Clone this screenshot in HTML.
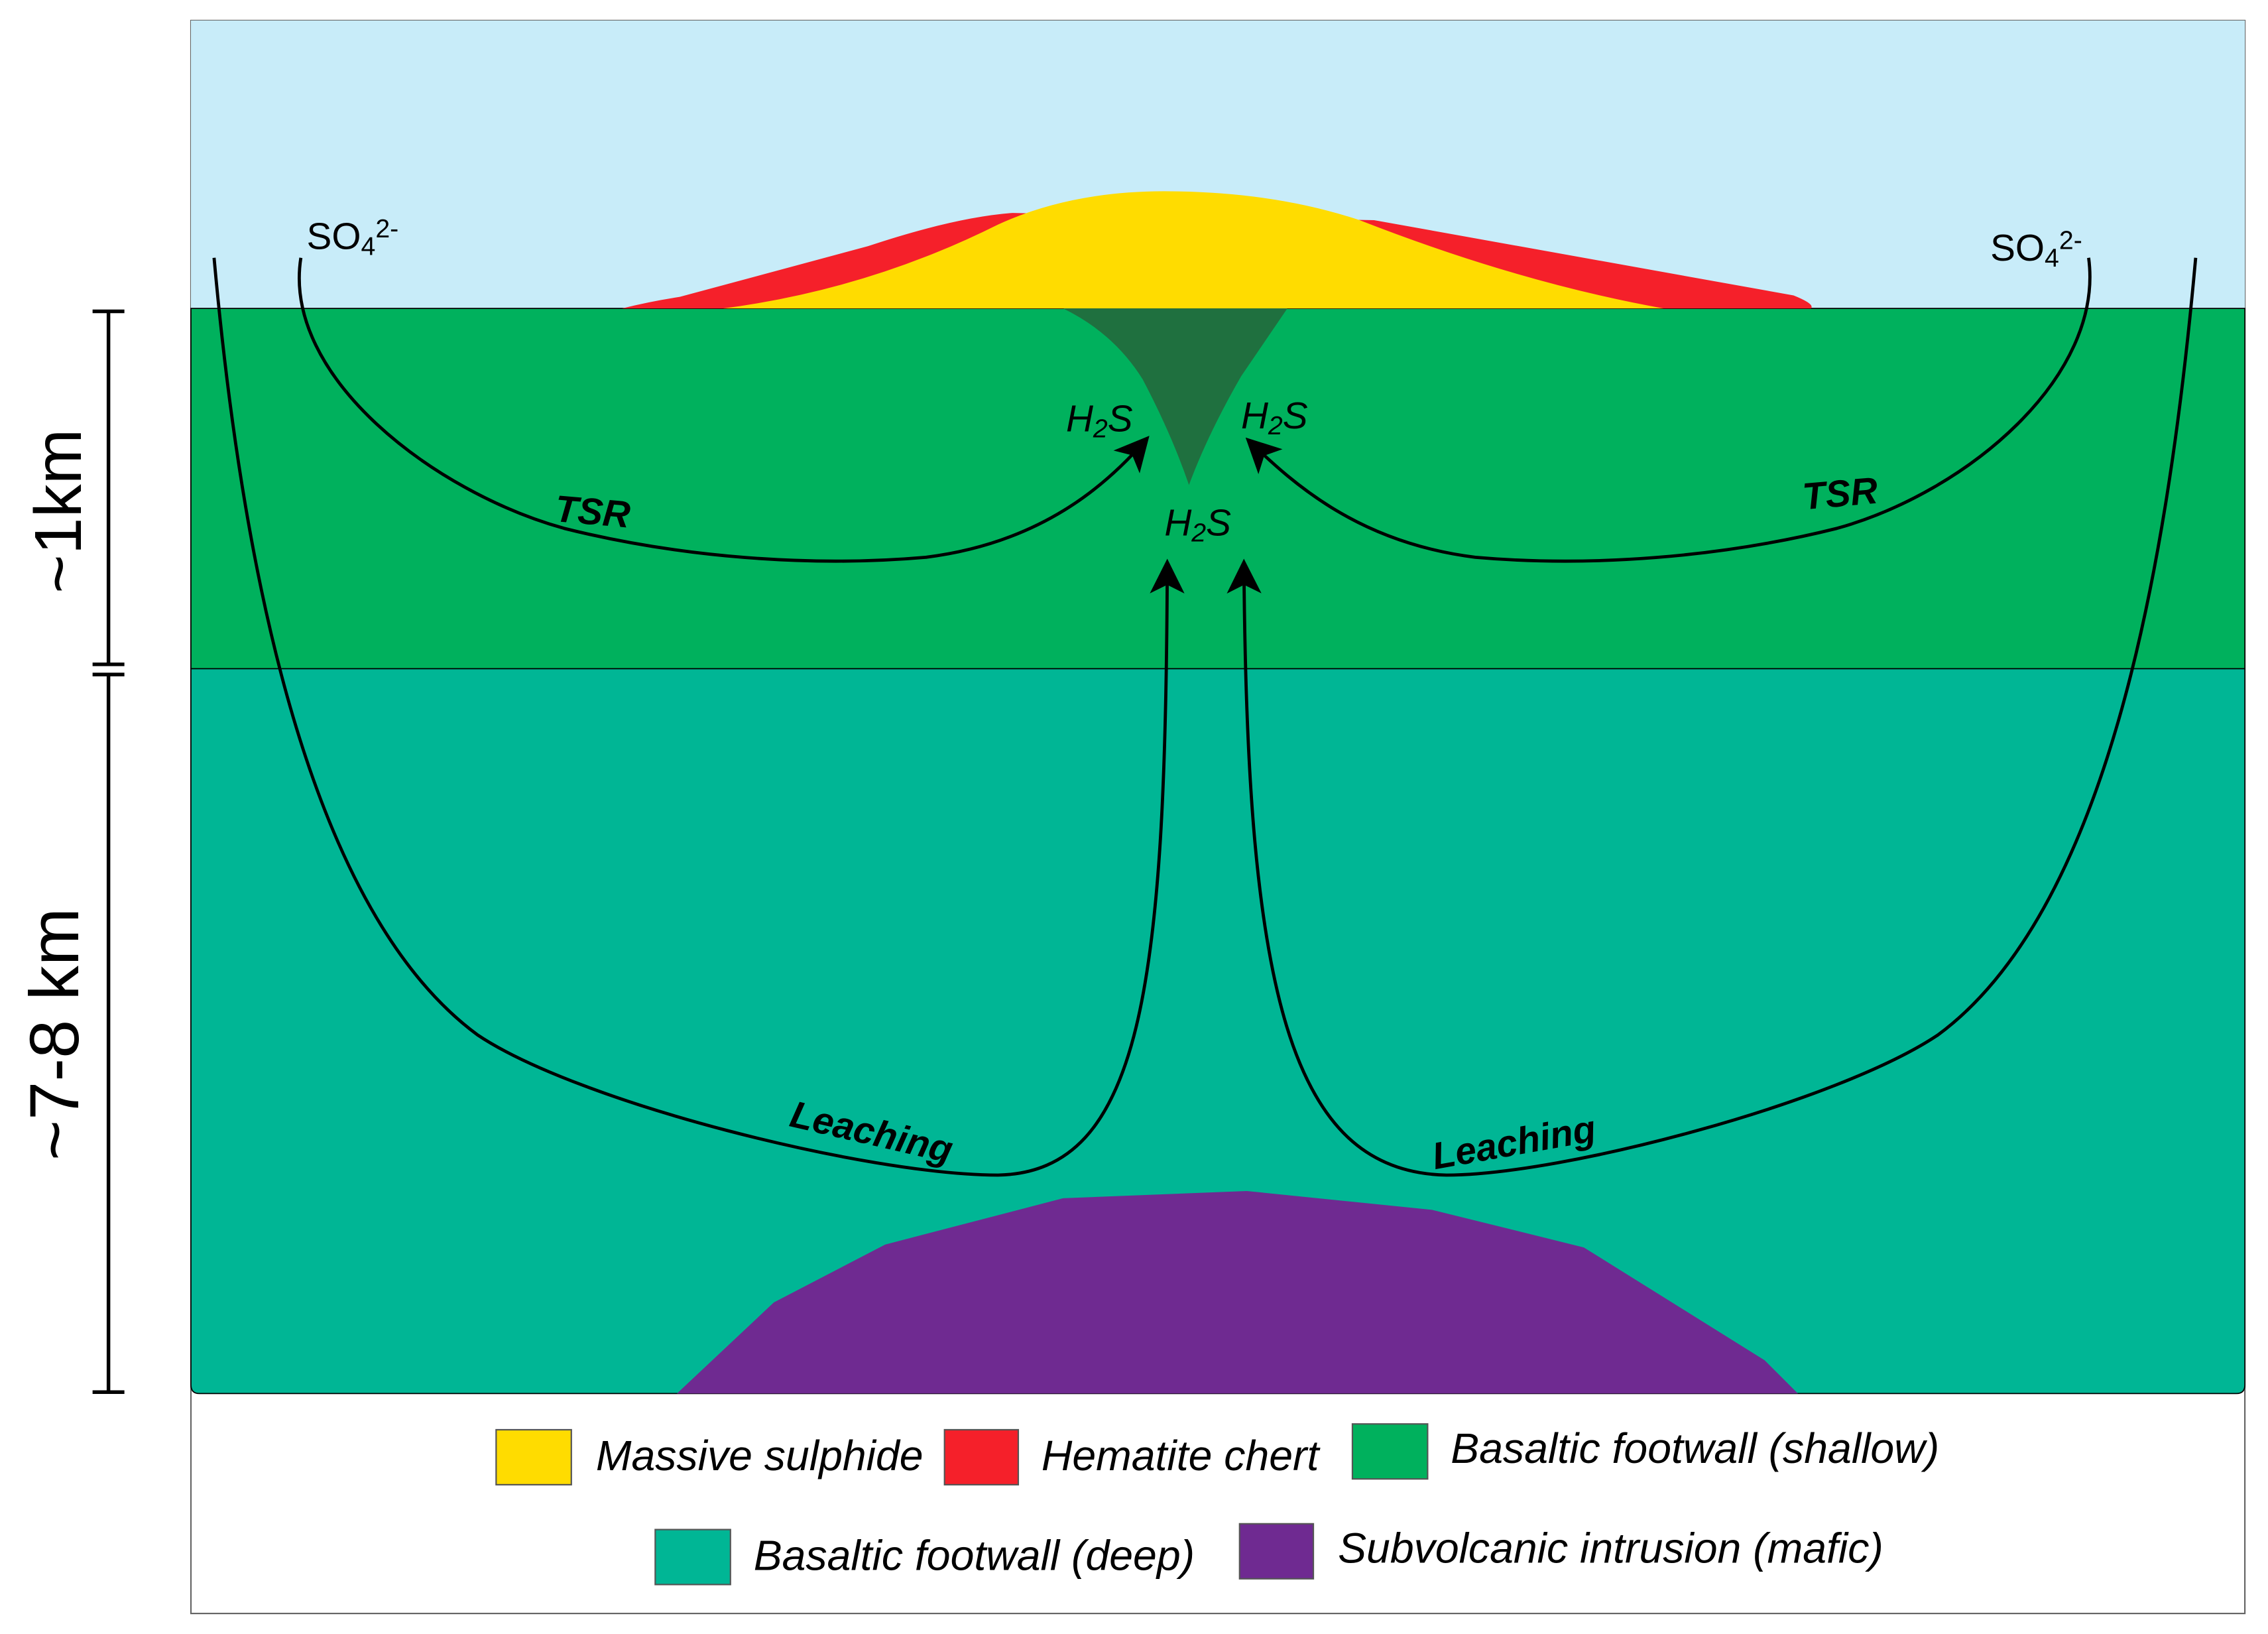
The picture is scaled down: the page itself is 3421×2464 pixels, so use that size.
<!DOCTYPE html>
<html><head><meta charset="utf-8"><style>
html,body{margin:0;padding:0;background:#fff;}
svg{display:block;}
text{font-family:"Liberation Sans","DejaVu Sans",sans-serif;}
</style></head><body>
<svg width="3421" height="2464" viewBox="0 0 1568 1129" xmlns="http://www.w3.org/2000/svg">
<defs>
<marker id="a" viewBox="0 0 12 12" refX="10" refY="6" markerWidth="24" markerHeight="24" orient="auto" markerUnits="userSpaceOnUse">
<path d="M0,0 L12,6 L0,12 L3,6 Z" fill="#000"/>
</marker>
</defs>
<rect x="0" y="0" width="1568" height="1129" fill="#fff"/>
<rect x="132" y="14" width="1420" height="1101" fill="#fff" stroke="#666" stroke-width="1"/>
<rect x="132" y="14" width="1420" height="199" fill="#c8ecf9"/>
<rect x="132" y="213" width="1420" height="249" fill="#00b15d" stroke="#000" stroke-width="0.8"/>
<path d="M132,462 H1552 V957 Q1552,963 1546,963 H138 Q132,963 132,957 Z" fill="#00b695" stroke="#000" stroke-width="0.8"/>
<path d="M430,213 Q450,208 470,205 L600,170 Q660,150 700,147 L950,152 L1240,204 Q1255,210 1252,213 Z" fill="#f5202a"/>
<path d="M500,213 Q600,200 690,155 Q740,132 805,132 Q880,132 940,152 Q1050,195 1150,213 Z" fill="#ffdc00"/>
<path d="M735,213 L890,213 L858,260 Q835,300 822,335 Q810,300 790,262 Q770,230 735,213 Z" fill="#1f703f"/>
<path d="M468,963 L535,900 L612,860 L735,828 L862,823 L990,836 L1095,862 L1220,940 L1243,963 Z" fill="#6f2a91"/>
<g fill="none" stroke="#000" stroke-width="2.2">
<path d="M148,178 C168,400 215,630 330,715 C400,762 600,812 690,812 C790,810 806,680 807,390" marker-end="url(#a)"/>
<path d="M1518,178 C1498,400 1455,630 1340,715 C1270,762 1080,812 1000,812 C890,810 862,680 860,390" marker-end="url(#a)"/>
<path d="M208,178 C195,260 300,340 390,365 C470,385 560,392 640,385 C720,375 765,335 792,304" marker-end="url(#a)"/>
<path d="M1444,178 C1455,260 1360,340 1270,365 C1190,385 1100,392 1020,385 C940,375 895,335 864,305" marker-end="url(#a)"/>
</g>
<g font-size="26" fill="#000">
<text x="212" y="172">SO<tspan font-size="18" dy="4">4</tspan><tspan font-size="18" dy="-12">2-</tspan></text>
<text x="1376" y="180">SO<tspan font-size="18" dy="4">4</tspan><tspan font-size="18" dy="-12">2-</tspan></text>
</g>
<g font-size="26" font-style="italic" fill="#000">
<text x="737" y="298">H<tspan font-size="18" dy="4">2</tspan><tspan dy="-4">S</tspan></text>
<text x="858" y="296">H<tspan font-size="18" dy="4">2</tspan><tspan dy="-4">S</tspan></text>
<text x="805" y="370">H<tspan font-size="18" dy="4">2</tspan><tspan dy="-4">S</tspan></text>
</g>
<g font-size="26" font-style="italic" font-weight="bold" fill="#000">
<text x="383" y="360" transform="rotate(5 383 360)">TSR</text>
<text x="1247" y="352" transform="rotate(-5 1247 352)">TSR</text>
<text x="545" y="778" transform="rotate(13 545 778)">Leaching</text>
<text x="992" y="808" transform="rotate(-10 992 808)">Leaching</text>
</g>
<g stroke="#000" stroke-width="2.5">
<line x1="75" y1="215" x2="75" y2="460"/>
<line x1="75" y1="466" x2="75" y2="962"/>
<line x1="64" y1="215" x2="86" y2="215"/>
<line x1="64" y1="459" x2="86" y2="459"/>
<line x1="64" y1="466" x2="86" y2="466"/>
<line x1="64" y1="962" x2="86" y2="962"/>
</g>
<text x="0" y="0" font-size="46" transform="translate(56,410) rotate(-90)">~1km</text>
<text x="0" y="0" font-size="48" transform="translate(54,802) rotate(-90)">~7-8 km</text>
<g stroke="#555" stroke-width="1">
<rect x="343" y="988" width="52" height="38" fill="#ffdc00"/>
<rect x="653" y="988" width="51" height="38" fill="#f5202a"/>
<rect x="935" y="984" width="52" height="38" fill="#00b15d"/>
<rect x="453" y="1057" width="52" height="38" fill="#00b695"/>
<rect x="857" y="1053" width="51" height="38" fill="#6f2a91"/>
</g>
<g font-size="29.5" font-style="italic" fill="#000">
<text x="412" y="1016">Massive sulphide</text>
<text x="720" y="1016">Hematite chert</text>
<text x="1003" y="1011">Basaltic footwall (shallow)</text>
<text x="521" y="1085">Basaltic footwall (deep)</text>
<text x="925" y="1080">Subvolcanic intrusion (mafic)</text>
</g>
</svg>
</body></html>
